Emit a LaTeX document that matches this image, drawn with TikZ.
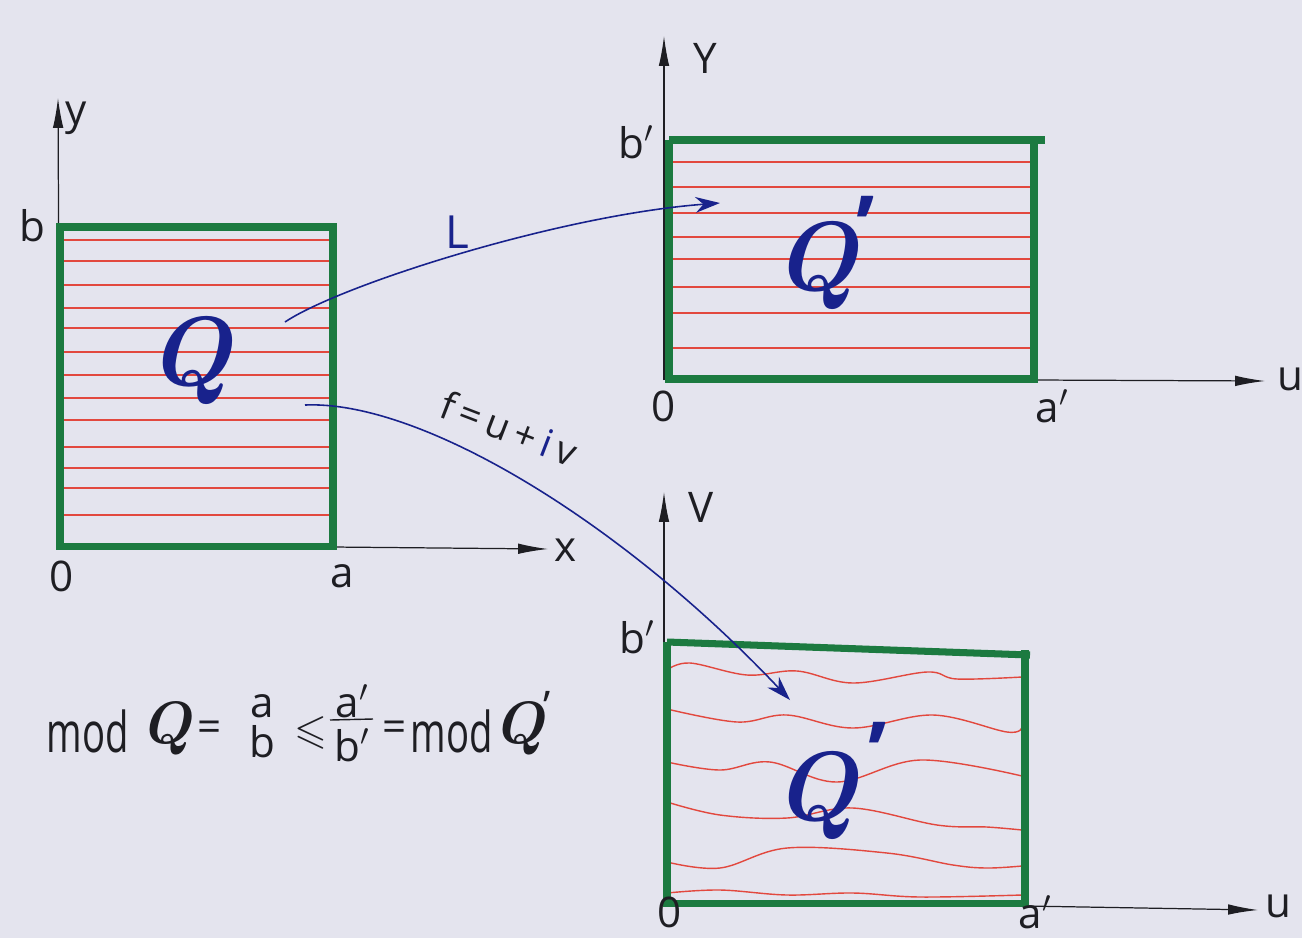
\documentclass[tikz,border=0pt]{standalone}
\usepackage{amssymb}
\usepackage{fontspec}
\setsansfont{Open Sans}
\usetikzlibrary{arrows.meta}
\definecolor{paper}{RGB}{228,228,238}
\definecolor{mgreen}{RGB}{28,122,64}
\definecolor{mred}{RGB}{226,72,62}
\definecolor{mblue}{RGB}{24,34,140}
\definecolor{ink}{RGB}{30,30,35}
\tikzset{
  frame/.style={draw=mgreen, line width=4pt, line join=miter},
  hatch/.style={draw=mred, line width=0.8pt},
  axis/.style={draw=ink, line width=0.7pt, -{Latex[length=17pt,width=6pt]}},
  lbl/.style={font=\sffamily\fontsize{24}{28}\selectfont, text=ink, inner sep=0pt},
  bigq/.style={font=\rmfamily\bfseries\itshape\fontsize{56}{60}\selectfont, text=mblue, inner sep=0pt},
  qprime/.style={font=\sffamily\bfseries\fontsize{48}{50}\selectfont, text=mblue, inner sep=0pt},
  mapar/.style={draw=mblue, line width=0.9pt, -{Stealth[length=14pt,width=9pt]}},
  frm/.style={font=\sffamily\fontsize{24}{28}\selectfont, text=ink, inner sep=0pt},
  frmq/.style={font=\rmfamily\bfseries\itshape\fontsize{34}{38}\selectfont, text=ink, inner sep=0pt},
}
\newcommand{\narrow}[1]{\scalebox{0.68}[1]{#1}}
\begin{document}
\begin{tikzpicture}[x=0.02cm, y=-0.02cm]
\fill[paper] (0,0) rectangle (1302,938);
\useasboundingbox (0,0) rectangle (1302,938);

% ---------- left rectangle Q ----------
\coordinate (O1) at (60,546);
\foreach \yy in {240,261,285,308,328,352,375,398,420,447,468,488,515}
  \draw[hatch] (62,\yy) -- (332,\yy);
\draw[axis] (O1) -- (58,98) coordinate (ytip);
\draw[axis] (333,547) -- (548,549) coordinate (xtip);
\draw[frame] (60,227) rectangle (333,546);
\node[lbl] (ly) at (76,118) {y};
\node[lbl] (lb) at (32,226) {b};
\node[lbl] (l0a) at (62,576) {0};
\node[lbl] (la) at (342,576) {a};
\node[lbl] (lx) at (566,550) {x};
\node[bigq] (Q) at (190,360) {Q};

% ---------- top right rectangle Q' ----------
\foreach \yy in {162,187,213,237,259,287,313,348}
  \draw[hatch] (668,\yy) -- (1035,\yy);
\draw[axis] (664,380) -- (664,36);
\draw[axis] (1035,380) -- (1265,381);
\draw[frame] (669,140) -- (1045,140);
\draw[frame] (669,140) -- (669,379) -- (1034,379) -- (1034,140);
\node[lbl] (lY) at (705,58) {Y};
\node[lbl] (lb2) at (636,142) {b$'$};
\node[lbl] (l0b) at (664,406) {0};
\node[lbl] (la2) at (1052,406) {a$'$};
\node[lbl] (lu1) at (1290,379) {u};
\node[bigq] (Q1) at (816,265) {Q};
\node[qprime] (Q1p) at (866,226) {\symbol{"27}};

% ---------- bottom right rectangle Q' ----------
\draw[hatch] plot[smooth, tension=0.6] coordinates {(667,670) (690,663) (747,675) (797,671) (853,683) (927,672) (957,679) (1022,677)};
\draw[hatch] plot[smooth, tension=0.6] coordinates {(667,709) (737,722) (787,715) (853,728) (933,715) (1007,732) (1022,727)};
\draw[hatch] plot[smooth, tension=0.6] coordinates {(667,762) (720,770) (770,762) (837,782) (920,760) (1022,776)};
\draw[hatch] plot[smooth, tension=0.6] coordinates {(667,802) (720,815) (787,818) (853,808) (937,825) (987,827) (1022,830)};
\draw[hatch] plot[smooth, tension=0.6] coordinates {(667,862) (720,868) (787,848) (887,853) (953,865) (987,868) (1022,866)};
\draw[hatch] plot[smooth, tension=0.6] coordinates {(667,893) (720,890) (787,895) (853,893) (920,897) (1022,895)};
\draw[axis] (664,903) -- (664,492);
\draw[axis] (1026,906) -- (1258,910);
\draw[frame] (667,642) -- (1030,655);
\draw[frame] (667,642) -- (667,903) -- (1025,903) -- (1025,650);
\node[lbl] (lV) at (701,507) {V};
\node[lbl] (lb3) at (637,637) {b$'$};
\node[lbl] (l0c) at (670,912) {0};
\node[lbl] (la3) at (1035,912) {a$'$};
\node[lbl] (lu2) at (1278,906) {u};
\node[bigq] (Q2) at (816,795) {Q};
\node[qprime] (Q2p) at (878,752) {\symbol{"27}};

% ---------- mapping arrows ----------
\coordinate (Ls) at (285,322);
\coordinate (Le) at (720,203);
\draw[mapar] (Ls) .. controls (340,285) and (560,215) .. (Le);
\node[font=\sffamily\fontsize{26}{30}\selectfont, text=mblue, inner sep=0pt] (lL) at (457,232) {L};
\coordinate (Fs) at (305,405);
\coordinate (Fe) at (790,700);
\draw[mapar] (Fs) .. controls (420,400) and (620,520) .. (Fe);
\node[font=\sffamily\fontsize{22}{26}\selectfont, text=ink, inner sep=0pt, rotate=-21] (lf) at (509,428) {f\,=\,u\,+\,\textcolor{mblue}{i}\,v};

% ---------- formula ----------
\node[frm, font=\sffamily\fontsize{32}{36}\selectfont] (mod1) at (88,731) {\narrow{mod}};
\node[frmq] (fQ) at (166,728) {Q};
\node[frm] (eq1) at (210,731) {=};
\node[frm] (fa) at (262,706) {a};
\node[frm] (fb) at (262,742) {b};
\node[font=\fontsize{24}{28}\selectfont, text=ink, inner sep=0pt] (le) at (311,733) {$\leqslant$};
\node[frm] (fa2) at (352,701) {a$'$};
\draw[ink, line width=0.8pt] (330,720) -- (373,719);
\node[frm] (fb2) at (352,745) {b$'$};
\node[frm] (eq2) at (395,731) {=};
\node[frm, font=\sffamily\fontsize{32}{36}\selectfont] (mod2) at (452,731) {\narrow{mod}};
\node[frmq] (fQ2) at (519,728) {Q};
\node[font=\sffamily\fontsize{24}{28}\selectfont, text=ink, inner sep=0pt] (fQ2p) at (547,706) {\symbol{"27}};
\end{tikzpicture}
\end{document}
